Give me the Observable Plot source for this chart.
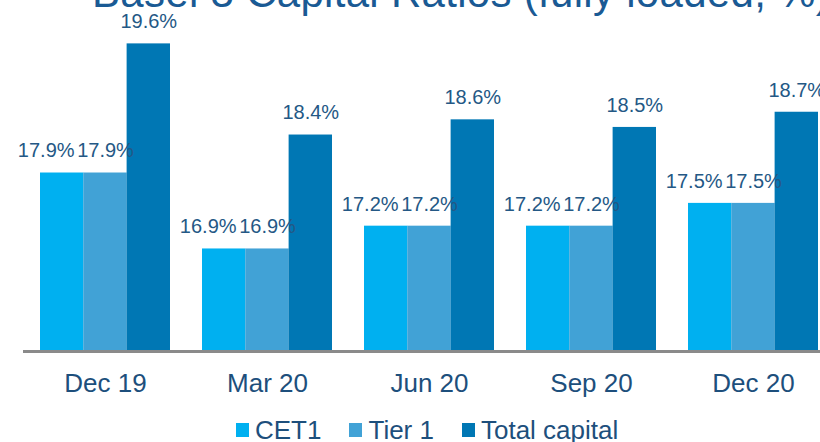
<!DOCTYPE html>
<html>
<head>
<meta charset="utf-8">
<script src="https://cdn.jsdelivr.net/npm/d3@7"></script>
<script src="https://cdn.jsdelivr.net/npm/@observablehq/plot@0.6"></script>
<style>
  html, body { margin: 0; padding: 0; background: #fff; overflow: hidden; width: 820px; height: 442px; }
  #wrap { position: relative; width: 820px; height: 442px; overflow: hidden; font-family: "Liberation Sans", Arial, sans-serif; }
  #title { position: absolute; left: 92px; top: -28px; font-size: 42px; line-height: 42px; letter-spacing: 0.3px; color: #1a5a94; white-space: nowrap; }
  #chart { position: absolute; left: 0; top: 0; }
  #legend { position: absolute; left: 236px; top: 417px; font-size: 26px; line-height: 26px; color: #1d4f7c; white-space: nowrap; }
  #legend .item { display: inline-block; margin-right: 28px; }
  #legend .sw { display: inline-block; width: 13px; height: 14px; margin-right: 6px; position: relative; top: -2px; }
</style>
</head>
<body>
<div id="wrap">
  <div id="title">Basel 3 Capital Ratios (fully loaded, %)</div>
  <div id="chart"></div>
  <div id="legend"></div>
</div>
<script>
const periods = ["Dec 19", "Mar 20", "Jun 20", "Sep 20", "Dec 20"];
const series = ["CET1", "Tier 1", "Total capital"];
const cet1 = [17.9, 16.9, 17.2, 17.2, 17.5];
const tier1 = [17.9, 16.9, 17.2, 17.2, 17.5];
const totalCapital = [19.6, 18.4, 18.6, 18.5, 18.7];
const colors = ["#00b0f0", "#41a2d6", "#0077b4"];
const yMin = 15.55;
const yMax = 20;

const valuesBySeries = [cet1, tier1, totalCapital];
const data = [];
series.forEach((s, i) => periods.forEach((p, j) => data.push({period: p, series: s, si: i, value: valuesBySeries[i][j]})));

const width = 820, height = 400;
const rangeX = [23, 835];
const pInner = 0.2, pOuter = 0.1;
const step = (rangeX[1] - rangeX[0]) / (periods.length - pInner + 2 * pOuter);
const bw = step * (1 - pInner);
const third = bw / 3;

const marks = [];
series.forEach((s, i) => {
  const d = data.filter(r => r.si === i);
  marks.push(Plot.barY(d, {
    x: "period", y1: yMin, y2: "value", fill: colors[i],
    insetLeft: i * third, insetRight: (2 - i) * third
  }));
});
series.forEach((s, i) => {
  const d = data.filter(r => r.si === i);
  marks.push(Plot.text(d, {
    x: "period", y: "value", text: r => r.value.toFixed(1) + "%",
    dx: (i - 1) * third + (i === 0 ? -16 : 0), dy: -22,
    fontSize: 20, fill: "#245885", fontFamily: "Liberation Sans, Arial, sans-serif"
  }));
});
marks.push(Plot.ruleY([yMin], {stroke: "#8a8a8a", strokeWidth: 3}));

const chart = Plot.plot({
  width, height,
  marginLeft: 23, marginRight: 0, marginTop: 13, marginBottom: 49,
  style: {fontSize: "26px", fontFamily: "Liberation Sans, Arial, sans-serif", color: "#1d4f7c", background: "transparent", overflow: "hidden"},
  x: {domain: periods, range: rangeX, paddingInner: pInner, paddingOuter: pOuter, tickSize: 0, tickPadding: 22, label: null},
  y: {domain: [yMin, yMax], axis: null},
  marks
});
document.getElementById("chart").appendChild(chart);

const legend = document.getElementById("legend");
series.forEach((s, i) => {
  const item = document.createElement("span");
  item.className = "item";
  const sw = document.createElement("span");
  sw.className = "sw";
  sw.style.background = colors[i];
  item.appendChild(sw);
  item.appendChild(document.createTextNode(s));
  legend.appendChild(item);
});
</script>
</body>
</html>
